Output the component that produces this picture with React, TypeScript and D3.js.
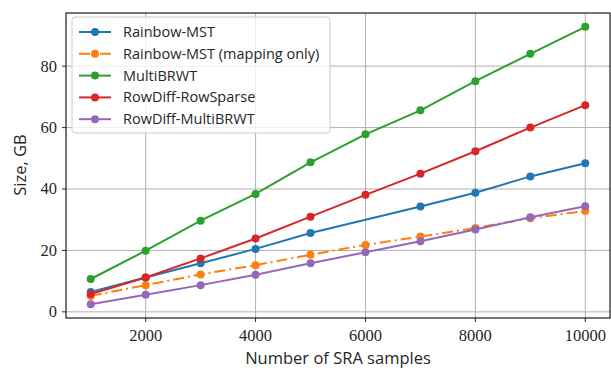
import * as d3 from "d3";

// samples on the x axis
const samples = [1000, 2000, 3000, 4000, 5000, 6000, 7000, 8000, 9000, 10000];

// sizes in GB (null = no point)
const rainbowMst = [6.5, 11.2, 15.8, 20.5, 25.7, null, 34.3, 38.8, 44.1, 48.4];
const rainbowMapping = [5.2, 8.7, 12.2, 15.2, 18.6, 21.8, 24.5, 27.3, 30.5, 32.8];
const multiBrwt = [10.7, 19.9, 29.7, 38.4, 48.7, 57.8, 65.6, 75.1, 84.0, 92.8];
const rowSparse = [5.8, 11.2, 17.4, 23.9, 31.0, 38.1, 45.0, 52.3, 60.0, 67.3];
const rowMultiBrwt = [2.5, 5.6, 8.7, 12.1, 15.8, 19.4, 23.0, 26.8, 30.8, 34.4];

const seriesNames = [
  "Rainbow-MST",
  "Rainbow-MST (mapping only)",
  "MultiBRWT",
  "RowDiff-RowSparse",
  "RowDiff-MultiBRWT",
];
const seriesValues = [rainbowMst, rainbowMapping, multiBrwt, rowSparse, rowMultiBrwt];
const colors = ["#1f77b4", "#ff7f0e", "#2ca02c", "#d62728", "#9467bd"];
const dashes = [null, "11,4,2,4", null, null, null];

const xTicks = [2000, 4000, 6000, 8000, 10000];
const yTicks = [0, 20, 40, 60, 80];

export default function App() {
  const width = 611;
  const height = 368;
  const m = { left: 66, right: 610, top: 13, bottom: 318 };

  const x = d3.scaleLinear().domain([550, 10450]).range([m.left, m.right]);
  const y = d3.scaleLinear().domain([-2.0, 97.3]).range([m.bottom, m.top]);

  const serif = "'Liberation Serif', 'DejaVu Serif', serif";
  const sans = "'Open Sans', 'DejaVu Sans', sans-serif";

  // matplotlib just joins the points that exist
  const pts = (vals: (number | null)[]) =>
    vals.map((v, i) => ({ v, s: samples[i] })).filter((d) => d.v !== null) as { v: number; s: number }[];

  const joined = d3
    .line<{ v: number; s: number }>()
    .x((d) => x(d.s))
    .y((d) => y(d.v));

  const legX = 72;
  const legY = 17;
  const rowH = 21.8;

  return (
    <svg
      width={width}
      height={height}
      style={{ position: "absolute", left: 0, top: 0, background: "#fff" }}
    >
      {/* grid */}
      {xTicks.map((t) => (
        <line key={"gx" + t} x1={x(t)} x2={x(t)} y1={m.top} y2={m.bottom} stroke="#b0b0b0" strokeWidth={1} />
      ))}
      {yTicks.map((t) => (
        <line key={"gy" + t} x1={m.left} x2={m.right} y1={y(t)} y2={y(t)} stroke="#b0b0b0" strokeWidth={1} />
      ))}

      {/* series */}
      {seriesValues.map((vals, k) => (
        <g key={seriesNames[k]}>
          <path
            d={joined(pts(vals)) || ""}
            fill="none"
            stroke={colors[k]}
            strokeWidth={2}
            strokeDasharray={dashes[k] || undefined}
          />
          {pts(vals).map((d) => (
            <circle key={d.s} cx={x(d.s)} cy={y(d.v)} r={4} fill={colors[k]} />
          ))}
        </g>
      ))}

      {/* frame */}
      <rect
        x={m.left}
        y={m.top}
        width={m.right - m.left}
        height={m.bottom - m.top}
        fill="none"
        stroke="#262626"
        strokeWidth={1.25}
      />

      {/* ticks */}
      {xTicks.map((t) => (
        <g key={"tx" + t}>
          <line x1={x(t)} x2={x(t)} y1={m.bottom} y2={m.bottom + 4} stroke="#262626" />
          <text x={x(t)} y={m.bottom + 23} textAnchor="middle" fontFamily={serif} fontSize={16.5} fill="#262626">
            {t}
          </text>
        </g>
      ))}
      {yTicks.map((t) => (
        <g key={"ty" + t}>
          <line x1={m.left - 4} x2={m.left} y1={y(t)} y2={y(t)} stroke="#262626" />
          <text x={m.left - 9} y={y(t) + 5.5} textAnchor="end" fontFamily={serif} fontSize={16.5} fill="#262626">
            {t}
          </text>
        </g>
      ))}

      {/* axis labels */}
      <text x={(m.left + m.right) / 2} y={363.5} textAnchor="middle" fontFamily={sans} fontSize={16.5} fill="#262626">
        Number of SRA samples
      </text>
      <text
        transform={`translate(26,165) rotate(-90)`}
        textAnchor="middle"
        fontFamily={sans}
        fontSize={16.5}
        fill="#262626"
      >
        Size, GB
      </text>

      {/* legend */}
      <rect x={legX} y={legY} width={258} height={116} rx={3} fill="#fff" fillOpacity={0.8} stroke="#cccccc" />
      {seriesNames.map((name, k) => {
        const cy = legY + 15 + k * rowH;
        return (
          <g key={"leg" + name}>
            <line
              x1={legX + 7}
              x2={legX + 39}
              y1={cy}
              y2={cy}
              stroke={colors[k]}
              strokeWidth={2}
              strokeDasharray={dashes[k] || undefined}
            />
            <circle cx={legX + 23} cy={cy} r={4} fill={colors[k]} />
            <text x={legX + 51} y={cy + 5} fontFamily={sans} fontSize={14.5} fill="#262626">
              {name}
            </text>
          </g>
        );
      })}
    </svg>
  );
}
